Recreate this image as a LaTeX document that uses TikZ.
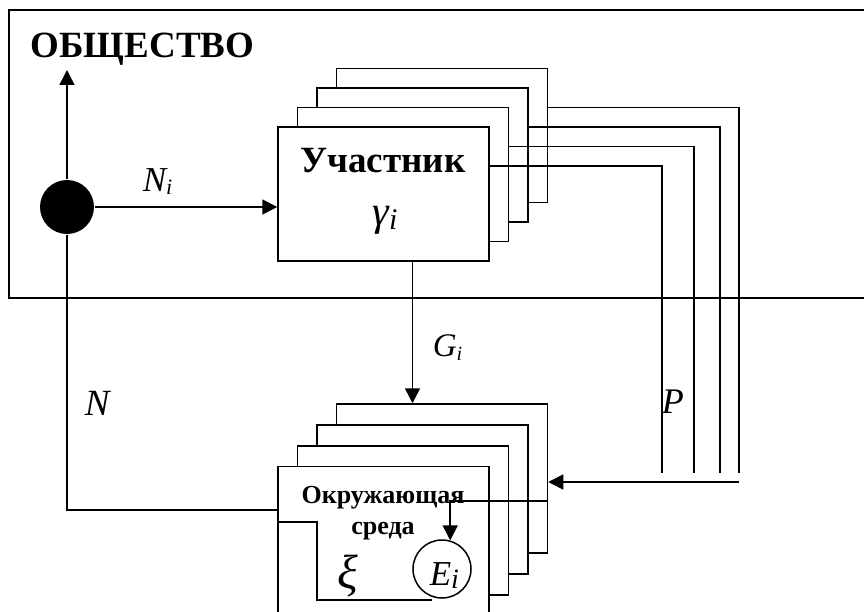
\documentclass[tikz,border=0pt]{standalone}
\usepackage{fontspec}
\setmainfont{Liberation Serif}
\usetikzlibrary{arrows.meta}
\newcommand\mysubi[2]{\raisebox{-#1}{\fontsize{#2}{#2}\selectfont i}}
\tikzset{
  stackbox/.style={draw, fill=white, minimum width=211pt, minimum height=134pt, inner sep=0pt},
  envbox/.style={draw, fill=white, minimum width=211pt, minimum height=149pt, inner sep=0pt},
  arr/.style={-{Triangle[length=15pt,width=15pt]}},
  lbl/.style={inner sep=0pt},
}
\begin{document}
\begin{tikzpicture}[x=1pt,y=-1pt,line width=1.5pt]
\useasboundingbox (0,0) rectangle (864,612);
\clip (0,0) rectangle (864,612);
\fill[white] (0,0) rectangle (864,612);
% society frame
\draw (9,10) rectangle (880,298);
\node[lbl, anchor=base west, font=\bfseries\fontsize{37}{37}\selectfont] (title) at (30,57.5) {ОБЩЕСТВО};
% dot
\node[circle, fill=black, minimum size=54pt, inner sep=0pt] (dot) at (67,207) {};
\coordinate (up) at (67,70);
\draw[arr] (dot.north) -- (up);
% participant stack
\node[stackbox] (u4) at (442,135.5) {};
\node[stackbox] (u3) at (422.5,155) {};
\node[stackbox] (u2) at (403,174.5) {};
\node[stackbox] (u1) at (383.5,194) {};
\node[lbl, anchor=base, font=\bfseries\fontsize{37}{37}\selectfont] (uch) at (383,173) {Участник};
\node[lbl, anchor=base, font=\itshape\fontsize{42}{42}\selectfont] (gam) at (385,226) {γ\mysubi{4pt}{30}};
\draw[arr] (dot.east) -- (dot.east -| u1.west);
\node[lbl, anchor=base west, font=\itshape\fontsize{35}{35}\selectfont] (Ni) at (142,192) {N\mysubi{3pt}{22}};
% P lines
\coordinate (p1) at (662,473);
\coordinate (p2) at (694,473);
\coordinate (p3) at (720,473);
\coordinate (p4) at (739,473);
\draw ([yshift=-40pt]u1.north east) -| (p1);
\draw ([yshift=-40pt]u2.north east) -| (p2);
\draw ([yshift=-40pt]u3.north east) -| (p3);
\draw ([yshift=-40pt]u4.north east) -| (p4);
\node[lbl, anchor=base west, font=\itshape\fontsize{36}{36}\selectfont] (P) at (661,413) {P};
% environment stack
\node[envbox] (e4) at (442,478.5) {};
\node[envbox] (e3) at (422.5,499.5) {};
\node[envbox] (e2) at (403,520.5) {};
\node[envbox] (e1) at (383.5,541) {};
\coordinate (q) at (739,482);
\draw[arr] (q) -- (q -| e4.east);
% G arrow
\coordinate (g1) at ([xshift=29pt]u1.south);
\draw[arr] (g1) -- (g1 |- e4.north);
\node[lbl, anchor=base west, font=\itshape\fontsize{33}{33}\selectfont] (Gi) at (432,356) {G\mysubi{4pt}{20}};
% N feedback
\coordinate (nc) at (67,510);
\draw (dot.south) -- (nc) -- (nc -| e1.west);
\node[lbl, anchor=base west, font=\itshape\fontsize{37}{37}\selectfont] (N) at (84,415) {N};
% environment contents
\node[lbl, anchor=base, font=\bfseries\fontsize{26}{26}\selectfont] (okr) at (383,503) {Окружающая};
\node[lbl, anchor=base, font=\bfseries\fontsize{26}{26}\selectfont] (sreda) at (383,534) {среда};
\node[circle, draw, minimum size=58pt, inner sep=0pt] (Ei) at (442,569) {};
\node[lbl, anchor=base west, font=\itshape\fontsize{35}{35}\selectfont] (Et) at (429,585) {E\mysubi{3pt}{28}};
\draw[arr] ([yshift=-22.5pt]e4.east) -| (Ei.74);
\coordinate (lc) at (317,600);
\coordinate (le) at (432,600);
\draw ([yshift=19pt]e1.west) -| (lc) -- (le);
\node[lbl, anchor=base, font=\itshape\fontsize{48}{48}\selectfont] (xi) at (348,588) {ξ};
\end{tikzpicture}
\end{document}
